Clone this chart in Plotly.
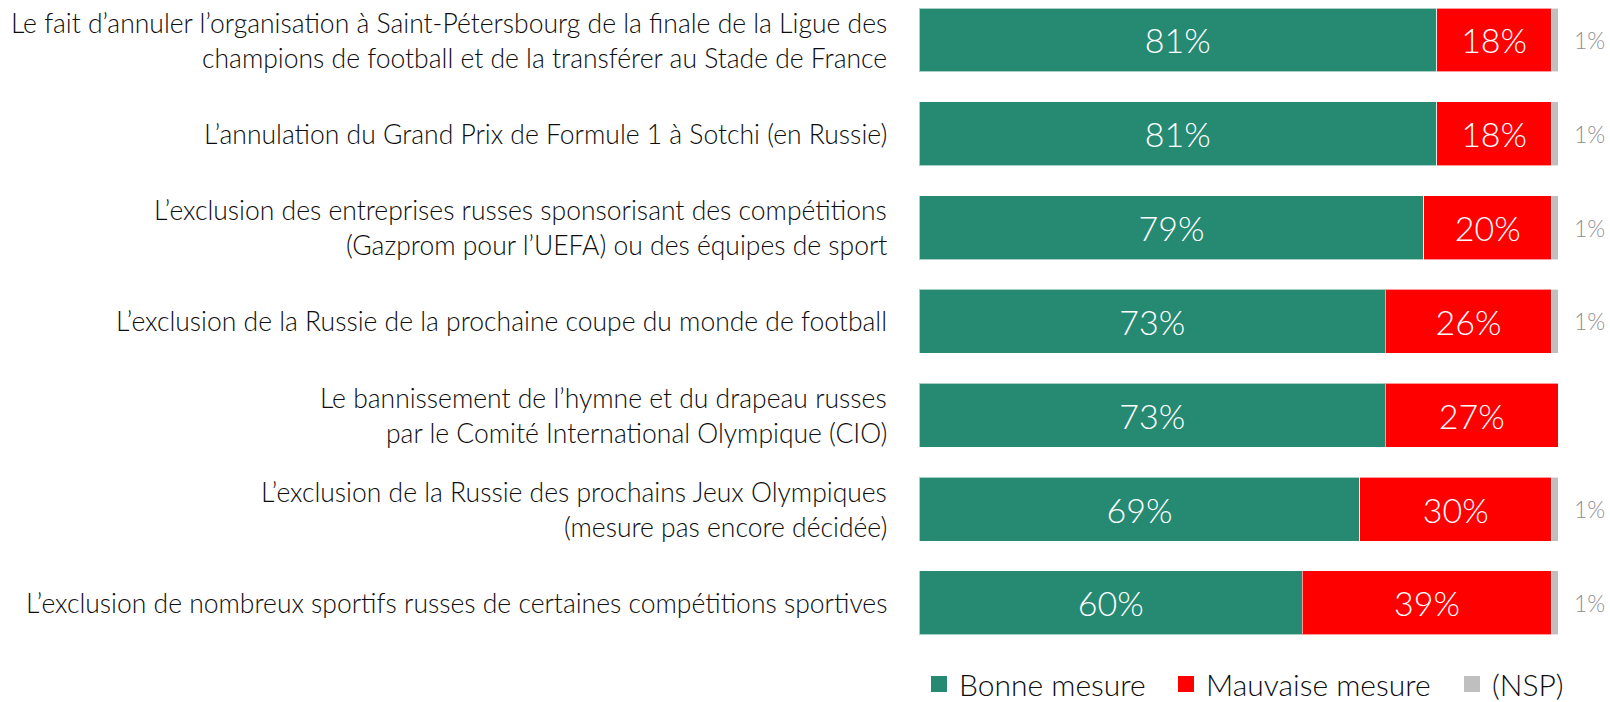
import plotly.graph_objects as go

categories = [
    "Le fait d\u2019annuler l\u2019organisation à Saint-Pétersbourg de la finale de la Ligue des\nchampions de football et de la transférer au Stade de France",
    "L\u2019annulation du Grand Prix de Formule 1 à Sotchi (en Russie)",
    "L\u2019exclusion des entreprises russes sponsorisant des compétitions\n(Gazprom pour l\u2019UEFA) ou des équipes de sport",
    "L\u2019exclusion de la Russie de la prochaine coupe du monde de football",
    "Le bannissement de l\u2019hymne et du drapeau russes\npar le Comité International Olympique (CIO)",
    "L\u2019exclusion de la Russie des prochains Jeux Olympiques\n(mesure pas encore décidée)",
    "L\u2019exclusion de nombreux sportifs russes de certaines compétitions sportives",
]
bonne = [81, 81, 79, 73, 73, 69, 60]
mauvaise = [18, 18, 20, 26, 27, 30, 39]
nsp = [1, 1, 1, 1, 0, 1, 1]
series_names = ["Bonne mesure", "Mauvaise mesure", "(NSP)"]
colors = ["#268A73", "#FF0000", "#BFBFBF"]

FONT = "Lato"
W = 300
pos = list(range(len(categories)))

fig = go.Figure()
for name, vals, col in zip(series_names, [bonne, mauvaise, nsp], colors):
    show_text = name != "(NSP)"
    fig.add_trace(go.Bar(
        y=pos, x=vals, name=name, orientation="h",
        width=0.682,
        marker=dict(color=col, line=dict(color="rgba(255,255,255,0.6)", width=1)),
        text=[f"{v}%" for v in vals] if show_text else None,
        textposition="inside" if show_text else "none",
        insidetextanchor="middle",
        textangle=0,
        constraintext="none",
        textfont=dict(family=FONT, size=34, color="white", weight=W),
        hoverinfo="skip",
        showlegend=False,
    ))

# legend entries (square symbols), one legend per entry for exact spacing
legend_ids = ["legend", "legend2", "legend3"]
for name, col, lid in zip(series_names, colors, legend_ids):
    fig.add_trace(go.Scatter(
        x=[None], y=[None], mode="markers", name=name,
        marker=dict(symbol="square", size=16, color=col),
        showlegend=True, legend=lid, hoverinfo="skip",
    ))

annotations = []
for i, lab in enumerate(categories):
    lines = lab.split("\n")
    n = len(lines)
    for j, line in enumerate(lines):
        off = ((n - 1) / 2 - j) * 35
        annotations.append(dict(
            x=0, xref="paper", y=i, yref="y", text=line, showarrow=False,
            xanchor="right", yanchor="middle", xshift=-30, yshift=off,
            font=dict(family=FONT, size=26.5, color="#0d0d0d", weight=W),
        ))
for i, v in enumerate(nsp):
    if v > 0:
        annotations.append(dict(
            x=100, xref="x", y=i, yref="y", text=f"{v}%", showarrow=False,
            xanchor="left", yanchor="middle", xshift=14,
            font=dict(family=FONT, size=23, color="#8f8f8f", weight=W),
        ))

def legend_style(xpx):
    return dict(
        orientation="h", xref="container", yref="container",
        x=xpx / 1610, xanchor="left", y=1 - 684 / 702, yanchor="middle",
        font=dict(family=FONT, size=30, color="#0d0d0d", weight=W),
        itemsizing="trace", bgcolor="rgba(0,0,0,0)",
    )

fig.update_layout(
    width=1610, height=702,
    barmode="stack",
    paper_bgcolor="white", plot_bgcolor="white",
    margin=dict(l=919, r=52, t=0, b=52, pad=0),
    xaxis=dict(range=[0, 100], visible=False, fixedrange=True),
    yaxis=dict(range=[6.503, -0.4264], visible=False, fixedrange=True),
    showlegend=True,
    legend=legend_style(919),
    legend2=legend_style(1166),
    legend3=legend_style(1452),
    annotations=annotations,
    font=dict(family=FONT),
)

fig.write_html("out.html", config={"displayModeBar": False},
               post_script="document.body.style.margin='0';")
